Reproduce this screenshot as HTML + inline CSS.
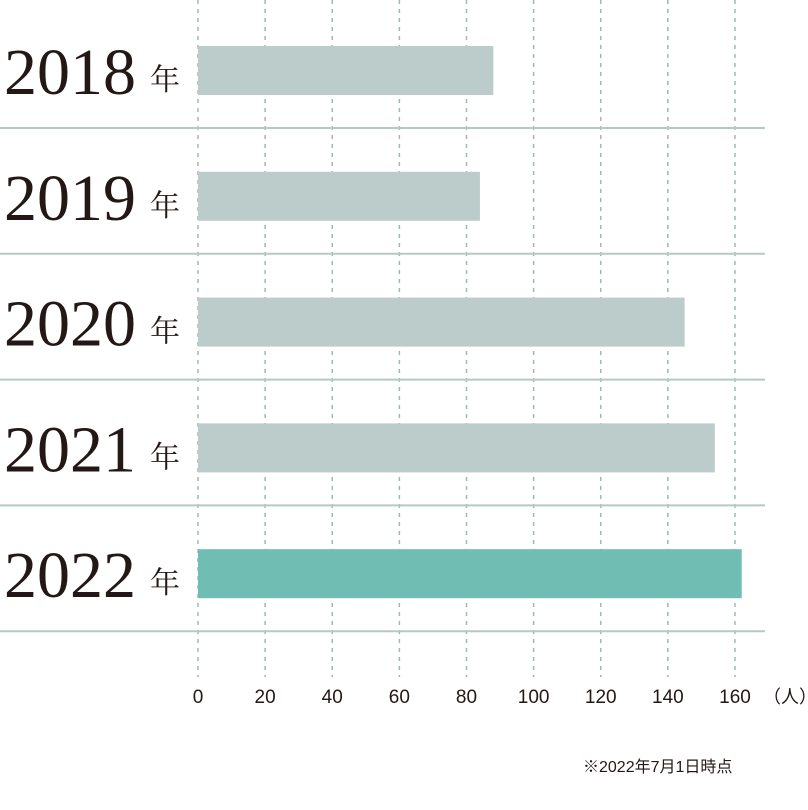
<!DOCTYPE html>
<html><head><meta charset="utf-8"><style>body{margin:0;background:#fff}svg{display:block}</style></head>
<body>
<svg id="chart" width="808" height="810" xmlns="http://www.w3.org/2000/svg"></svg>
<script>
const categories = ["2018","2019","2020","2021","2022"];
const values = [88, 84, 145, 154, 162];
const ticks = [0,20,40,60,80,100,120,140,160];
const NS = "http://www.w3.org/2000/svg";
const svg = document.getElementById("chart");
const x = v => 198 + v * (735 - 198) / 160;
const rowTop = i => 2 + i * 125.8;
function el(tag, attrs, text){const e=document.createElementNS(NS,tag);for(const k in attrs)e.setAttribute(k,attrs[k]);if(text!==undefined)e.textContent=text;svg.appendChild(e);return e;}
ticks.forEach((t,i)=>{
  const g = el("line",{x1:x(t),x2:x(t),y1:0,y2:677,stroke:"#9fb8b3","stroke-width":1.5,"stroke-dasharray":"4 5"});
  
  
  const l = el("text",{x:x(t),y:703,"text-anchor":"middle","font-size":19,fill:"#231815","font-family":"Liberation Sans, sans-serif"},String(t));
  
  
});
const u = el("text",{x:763,y:703,"font-size":18,fill:"#231815","font-family":"Liberation Sans, Noto Sans CJK JP, sans-serif"},"（人）");


categories.forEach((c,i)=>{
  const top=rowTop(i);
  const sep = el("line",{x1:0,x2:765,y1:top+126,y2:top+126,stroke:"#b5c9c5","stroke-width":2});
  
  
  const b = el("rect",{x:x(0),y:top+44,width:x(values[i])-x(0),height:49,fill:i===4?"#6fbdb3":"#bccccb"});
  
  
  const t = el("text",{x:4,y:top+92,"font-size":66,fill:"#231815","font-family":"Liberation Serif, serif"},c);
  
  
  const n = el("text",{x:150,y:top+88,"font-size":30,fill:"#231815","font-family":"Noto Serif CJK SC, Noto Sans CJK JP, serif"},"年");
  
  
});
const note = el("text",{x:583,y:772,"font-size":16,fill:"#231815","font-family":"Liberation Sans, Noto Sans CJK JP, sans-serif"},"※2022年7月1日時点");


</script>
</body></html>
